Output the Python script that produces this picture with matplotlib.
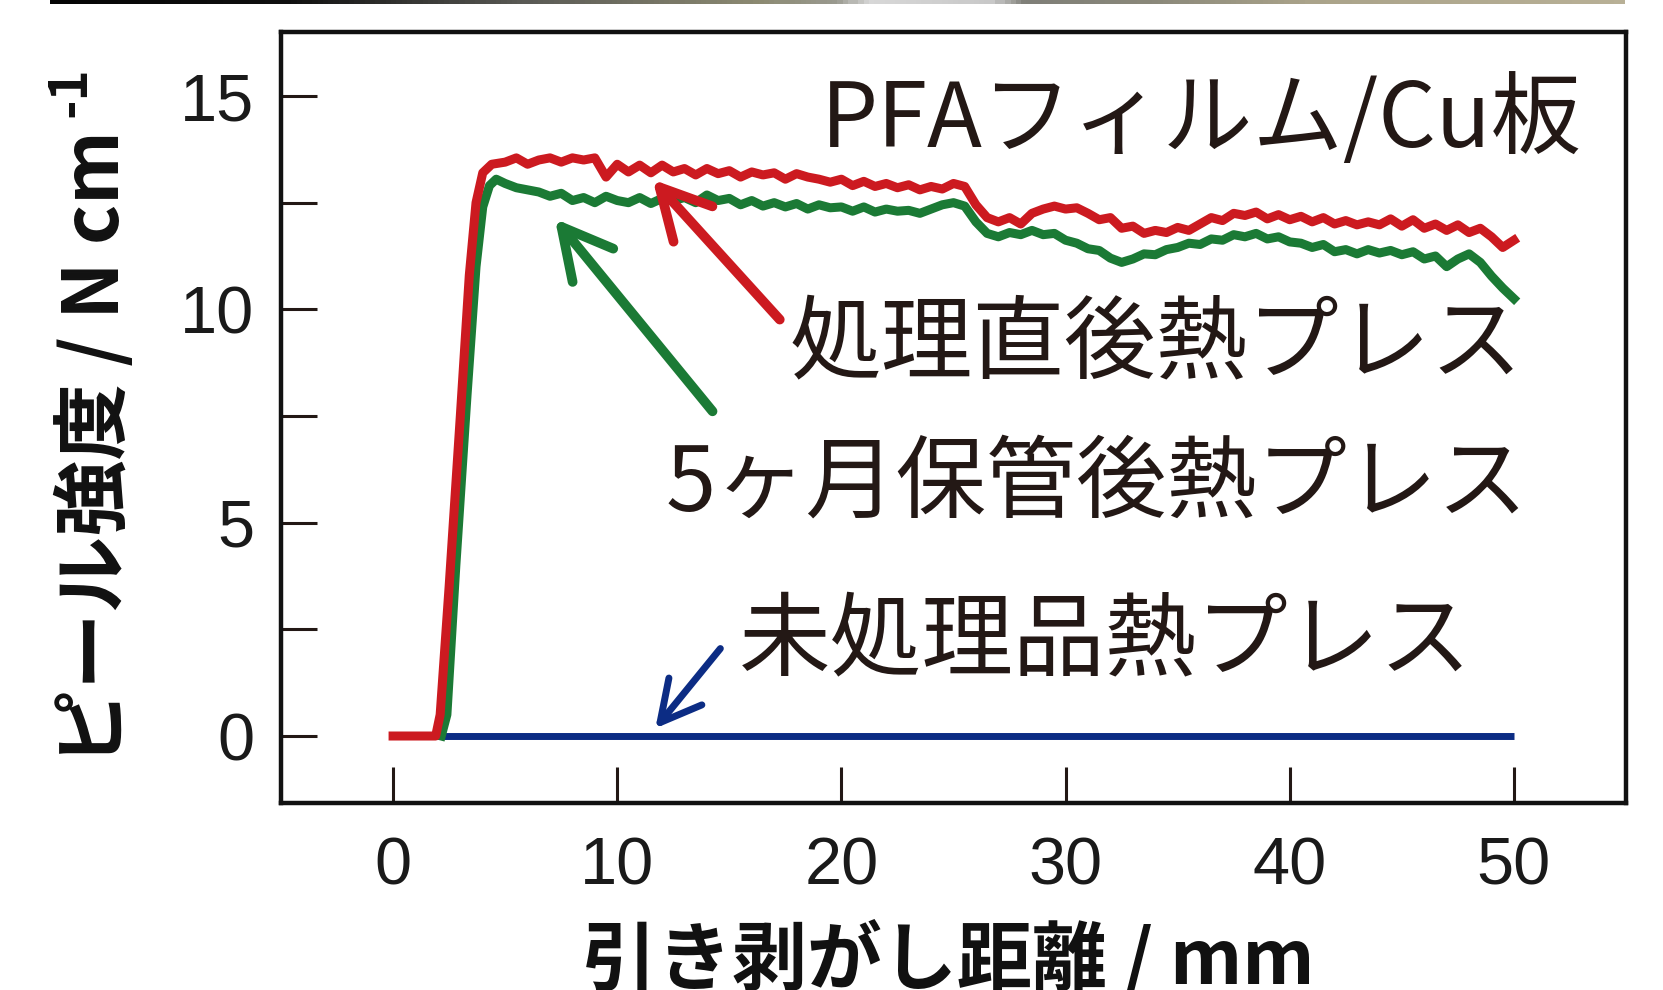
import matplotlib
matplotlib.use("Agg")
import matplotlib.pyplot as plt
from matplotlib.colors import LinearSegmentedColormap
import numpy as np

plt.rcParams['font.family'] = ['Noto Sans CJK JP', 'DejaVu Sans']

W, H = 1663, 990

# peel distance (mm) on the plateau, shared by the two upper curves
plateau_x = [5.0, 5.5, 6.0, 6.5, 7.0, 7.5, 8.0, 8.5, 9.0, 9.5,
             10.0, 10.5, 11.0, 11.5, 12.0, 12.5, 13.0, 13.5, 14.0, 14.5,
             15.0, 15.5, 16.0, 16.5, 17.0, 17.5, 18.0, 18.5, 19.0, 19.5,
             20.0, 20.5, 21.0, 21.5, 22.0, 22.5, 23.0, 23.5, 24.0, 24.5,
             25.0, 25.5, 26.0, 26.5, 27.0, 27.5, 28.0, 28.5, 29.0, 29.5,
             30.0, 30.5, 31.0, 31.5, 32.0, 32.5, 33.0, 33.5, 34.0, 34.5,
             35.0, 35.5, 36.0, 36.5, 37.0, 37.5, 38.0, 38.5, 39.0, 39.5,
             40.0, 40.5, 41.0, 41.5, 42.0, 42.5, 43.0, 43.5, 44.0, 44.5,
             45.0, 45.5, 46.0, 46.5, 47.0, 47.5, 48.0, 48.5, 49.0, 49.5,
             50.0]

# 処理直後熱プレス (red)
red_rise_x = [0.0, 1.9, 2.1, 2.5, 3.0, 3.4, 3.7, 4.0, 4.4]
red_rise_y = [0.0, 0.0, 0.5, 3.5, 7.5, 10.8, 12.5, 13.2, 13.4]
red_plateau = [13.45, 13.55, 13.40, 13.50, 13.55, 13.45, 13.55, 13.50, 13.55, 13.10,
               13.40, 13.22, 13.38, 13.20, 13.38, 13.22, 13.30, 13.15, 13.30, 13.18,
               13.25, 13.10, 13.22, 13.15, 13.20, 13.05, 13.18, 13.10, 13.05, 12.98,
               13.05, 12.90, 13.00, 12.88, 12.95, 12.85, 12.92, 12.80, 12.88, 12.82,
               12.95, 12.88, 12.45, 12.15, 12.05, 12.15, 12.00, 12.25, 12.35, 12.42,
               12.35, 12.38, 12.25, 12.10, 12.15, 11.90, 11.95, 11.78, 11.85, 11.80,
               11.92, 11.85, 12.00, 12.15, 12.08, 12.25, 12.20, 12.28, 12.12, 12.22,
               12.10, 12.18, 12.05, 12.15, 12.00, 12.08, 11.98, 12.05, 11.98, 12.12,
               11.95, 12.10, 11.90, 12.00, 11.85, 11.98, 11.80, 11.90, 11.70, 11.45,
               11.62]

# 5ヶ月保管後熱プレス (green)
green_rise_x = [2.15, 2.4, 2.8, 3.3, 3.7, 4.0, 4.3, 4.6]
green_rise_y = [0.0, 0.5, 4.0, 8.0, 11.0, 12.4, 12.9, 13.05]
green_plateau = [12.95, 12.85, 12.80, 12.75, 12.65, 12.72, 12.55, 12.62, 12.50, 12.65,
                 12.55, 12.50, 12.62, 12.48, 12.60, 12.55, 12.62, 12.50, 12.68, 12.55,
                 12.60, 12.45, 12.55, 12.42, 12.50, 12.40, 12.48, 12.35, 12.45, 12.38,
                 12.40, 12.30, 12.40, 12.28, 12.35, 12.30, 12.32, 12.25, 12.35, 12.45,
                 12.50, 12.42, 12.05, 11.78, 11.70, 11.80, 11.75, 11.85, 11.75, 11.78,
                 11.62, 11.55, 11.42, 11.38, 11.20, 11.10, 11.18, 11.30, 11.28, 11.40,
                 11.45, 11.55, 11.52, 11.65, 11.62, 11.75, 11.70, 11.78, 11.65, 11.70,
                 11.58, 11.55, 11.45, 11.52, 11.35, 11.40, 11.30, 11.40, 11.32, 11.38,
                 11.28, 11.35, 11.18, 11.25, 11.00, 11.18, 11.30, 11.10, 10.78, 10.50,
                 10.25]

# 未処理品熱プレス (blue)
blue_x = [2.0, 50.0]
blue_y = [0.0, 0.0]

x_ticks = [0, 10, 20, 30, 40, 50]
y_ticks = [0, 5, 10, 15]
y_minor = [2.5, 7.5, 12.5]

ink = '#231815'
c_red = '#cc1a20'
c_green = '#1b7a35'
c_blue = '#0c2c84'

fig = plt.figure(figsize=(W / 100, H / 100), dpi=100)
ax = fig.add_axes([281 / W, 1 - 803 / H, (1626 - 281) / W, (803 - 32) / H])

ax.plot(blue_x, blue_y, color=c_blue, lw=5, solid_capstyle='butt', zorder=3)
ax.plot(green_rise_x + plateau_x, green_rise_y + green_plateau, color=c_green, lw=6.5, zorder=4)
ax.plot(red_rise_x + plateau_x, red_rise_y + red_plateau, color=c_red, lw=6.5, zorder=5)

ax.set_xlim(-5, 55)
ax.set_ylim(-1.57, 16.5)
ax.set_xticks(x_ticks)
ax.set_yticks(y_ticks)
ax.set_yticks(y_minor, minor=True)
tick_font = {'family': 'Liberation Sans', 'size': 48}
ax.set_xticklabels([str(t) for t in x_ticks], fontdict=tick_font, color='#1a1a1a')
ax.set_yticklabels([str(t) for t in y_ticks], fontdict=tick_font, color='#1a1a1a')
ax.tick_params(axis='both', which='both', direction='in', length=26, width=2.2, color=ink)
ax.tick_params(axis='y', which='both', pad=19)
ax.tick_params(axis='x', which='both', pad=24)
for sp in ax.spines.values():
    sp.set_linewidth(3.2)
    sp.set_color('#111111')

# arrows pointing at the curves
arrows = [((11.58, 13.04), (17.25, 9.76), c_red, 7.0, 42),
          ((7.22, 12.12), (14.25, 7.61), c_green, 7.0, 42),
          ((11.7, 0.18), (14.6, 2.05), c_blue, 5.0, 34)]
for tip, tail, col, lw, ms in arrows:
    ax.annotate('', xy=tip, xytext=tail,
                arrowprops=dict(arrowstyle='->,head_length=0.85,head_width=0.45',
                                color=col, lw=lw, shrinkA=0, shrinkB=0,
                                mutation_scale=ms, capstyle='round', joinstyle='round'),
                zorder=6)

fig.text(1582 / W, 1 - 122 / H, 'PFAフィルム/Cu板', ha='right', va='center',
         fontsize=65, color=ink)
fig.text(790 / W, 1 - 345 / H, '処理直後熱プレス', ha='left', va='center',
         fontsize=66, color=ink)
fig.text(666 / W, 1 - 485 / H, '5ヶ月保管後熱プレス', ha='left', va='center',
         fontsize=65, color=ink)
fig.text(739 / W, 1 - 642 / H, '未処理品熱プレス', ha='left', va='center',
         fontsize=66, color=ink)

# axis labels
fig.text(95 / W, 1 - 448 / H, 'ピール強度 / N cm', rotation=90, ha='center', va='center',
         fontsize=55, fontweight='bold', color='#111111')
fig.text(70 / W, 1 - 92 / H, '-1', rotation=90, ha='center', va='center',
         fontsize=38, fontweight='bold', color='#111111')
fig.text(948 / W, 1 - 960 / H, '引き剥がし距離 / mm', ha='center', va='center',
         fontsize=54, fontweight='bold', color='#111111')

# thin photo strip cropped at the very top of the figure
strip = fig.add_axes([50 / W, 1 - 4 / H, (1625 - 50) / W, 4 / H])
strip_cmap = LinearSegmentedColormap.from_list(
    'strip', [(0.0, '#050505'), (0.15, '#101010'), (0.3, '#5a5a55'), (0.45, '#8c8a72'),
              (0.5, '#9a9a90'), (0.52, '#d8d8d8'), (0.6, '#c8c8c8'), (0.62, '#7f7f78'),
              (0.7, '#8a887a'), (0.8, '#aaa38a'), (1.0, '#b8b096')])
strip.imshow(np.linspace(0, 1, 300)[None, :], aspect='auto', cmap=strip_cmap)
strip.axis('off')

fig.savefig('out.png', dpi=100)
